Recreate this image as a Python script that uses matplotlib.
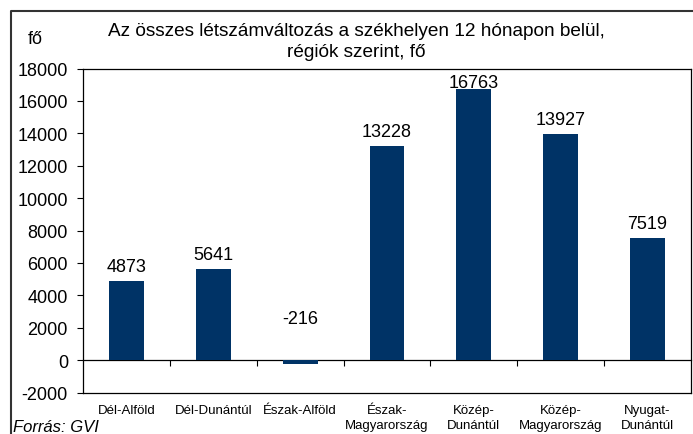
import matplotlib
matplotlib.use('Agg')
import matplotlib.pyplot as plt
from matplotlib.lines import Line2D

plt.rcParams['font.family'] = ['Liberation Sans', 'DejaVu Sans']
plt.rcParams['axes.unicode_minus'] = False

regiok = ['Dél-Alföld', 'Dél-Dunántúl', 'Észak-Alföld', 'Észak-\nMagyarország',
          'Közép-\nDunántúl', 'Közép-\nMagyarország', 'Nyugat-\nDunántúl']
valtozas = [4873, 5641, -216, 13228, 16763, 13927, 7519]
y_ticks = [-2000, 0, 2000, 4000, 6000, 8000, 10000, 12000, 14000, 16000, 18000]

fig = plt.figure(figsize=(6.93, 4.35), dpi=100)
ax = fig.add_axes([83 / 693, 1 - 393.5 / 435, 608 / 693, 324 / 435])

x = list(range(len(regiok)))
ax.bar(x, valtozas, width=0.4, color='#003366', zorder=2)

ax.set_xlim(-0.5, len(regiok) - 0.5)
ax.set_ylim(-2000, 18000)
ax.set_yticks(y_ticks)
ax.tick_params(axis='y', length=4.3, width=0.8, pad=6.5, labelsize=13)
ax.set_xticks(x)
ax.set_xticklabels(regiok, fontsize=9.5, linespacing=1.3, va='top')
ax.tick_params(axis='x', length=0, pad=8.5)
for s in ax.spines.values():
    s.set_linewidth(0.9)

# kategória-tengely a nullánál, osztásjelek a kategóriák között
ymin, ymax = ax.get_ylim()
zero_ax = ax.secondary_xaxis((0 - ymin) / (ymax - ymin))
zero_ax.set_xticks([i + 0.5 for i in x[:-1]])
zero_ax.tick_params(length=4, width=0.8, direction='out', labelbottom=False)
zero_ax.spines['bottom'].set_linewidth(0.9)

# adatfeliratok: 10 px az oszlop fölött, de a rajzterületen belül maradnak
unit_per_px = (ymax - ymin) / 324
for i, v in enumerate(valtozas):
    if v >= 0:
        y_lab = min(v + 10 * unit_per_px, ymax - 19 * unit_per_px)
    else:
        y_lab = 37 * unit_per_px
    ax.text(i, y_lab, str(v), ha='center', va='baseline', fontsize=13)

fig.text(356 / 693, 1 - 36 / 435, 'Az összes létszámváltozás a székhelyen 12 hónapon belül,',
         ha='center', va='baseline', fontsize=13.7)
fig.text(356 / 693, 1 - 57 / 435, 'régiók szerint, fő', ha='center', va='baseline', fontsize=13.7)
fig.text(35 / 693, 1 - 44 / 435, 'fő', ha='center', va='baseline', fontsize=13)
fig.text(13 / 693, 1 - 432 / 435, 'Forrás: GVI', ha='left', va='baseline',
         fontsize=12, style='italic')

# külső keret
fig.add_artist(Line2D([11 / 693, 11 / 693, 1.0], [0.0, 1 - 12 / 435, 1 - 12 / 435],
                      transform=fig.transFigure, color='#333333', linewidth=1.5))

fig.savefig('out.png', dpi=100)
